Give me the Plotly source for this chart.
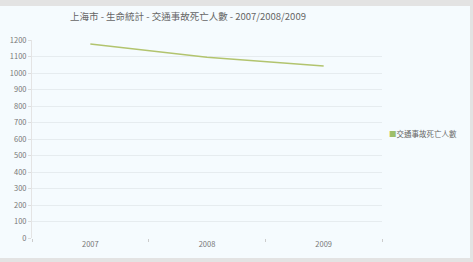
import plotly.graph_objects as go

title = "上海市 - 生命統計 - 交通事故死亡人數 - 2007/2008/2009"
years = ["2007", "2008", "2009"]
deaths = [1176, 1096, 1043]
series_name = "交通事故死亡人數"
y_ticks = list(range(0, 1201, 100))

W, H = 473, 262
ml, mr, mt, mb = 32, 91, 40, 24
pw, ph = W - ml - mr, H - mt - mb

def px_x(p):
    return (p - ml) / pw

def px_y(p):
    return (H - mb - p) / ph

line_color = "#b2c46e"
legend_color = "#9dbf6a"

fig = go.Figure()
fig.add_trace(go.Scatter(
    x=years, y=deaths, mode="lines", name=series_name,
    line=dict(color=line_color, width=1.5),
    showlegend=False,
))

fig.add_shape(type="rect", xref="paper", yref="paper",
              x0=px_x(0), x1=px_x(470), y0=px_y(258), y1=px_y(6),
              fillcolor="#f5fbfe", line=dict(width=0), layer="below")

# legend
fig.add_annotation(
    xref="paper", yref="paper", x=px_x(387), y=px_y(133),
    xanchor="left", yanchor="middle", showarrow=False,
    text=f"<span style='color:{legend_color}'>■</span>{series_name}",
    font=dict(size=7.5, color="#666666"),
)

fig.update_layout(
    width=W, height=H,
    margin=dict(l=ml, r=mr, t=mt, b=mb, autoexpand=False),
    paper_bgcolor="#e3e3e3",
    plot_bgcolor="rgba(255,255,255,0)",
    font=dict(family="Noto Sans CJK TC, sans-serif", size=7.5, color="#777777"),
    title=dict(text=title, x=188 / W, xanchor="center", y=1 - 17 / H, yanchor="middle",
               font=dict(size=9.5, color="#666666")),
    showlegend=False,
    xaxis=dict(
        type="category", range=[-0.5, 2.5], tickson="boundaries",
        ticks="outside", ticklen=3, tickcolor="#cccccc",
        showgrid=False, showline=False, zeroline=False,
        tickfont=dict(size=7.5, color="#777777"),
    ),
    yaxis=dict(
        range=[0, 1200], tickvals=y_ticks, ticks="outside", ticklen=3,
        tickcolor="#dddddd", gridcolor="#e6ecef", gridwidth=1,
        showline=True, linecolor="#e4e4e4", linewidth=1, zeroline=False,
        tickfont=dict(size=7.5, color="#777777"),
    ),
)

fig.write_html(
    "out.html",
    config={"displayModeBar": False},
    post_script="document.body.style.margin='0';document.body.style.padding='0';",
)
